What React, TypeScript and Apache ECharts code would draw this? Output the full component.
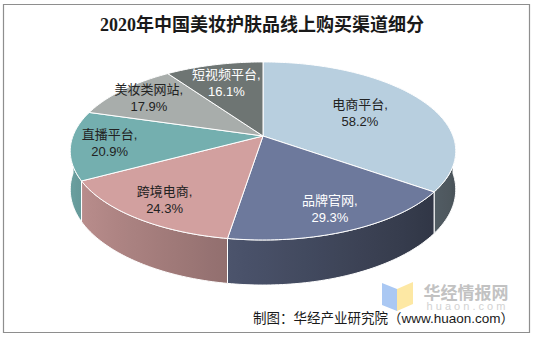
import React, { useEffect, useRef } from "react";
import * as echarts from "echarts";

const TITLE = "2020年中国美妆护肤品线上购买渠道细分";
const SOURCE = "制图：华经产业研究院（www.huaon.com）";
const BRAND = "华经情报网";
const BRAND_URL = "huaon.com";

const categories = ["电商平台", "品牌官网", "跨境电商", "直播平台", "美妆类网站", "短视频平台"];
const shares = [58.2, 29.3, 24.3, 20.9, 17.9, 16.1];

// slice styling
const TOP_COLORS = ["#b8cfdf", "#6d799c", "#d2a09f", "#74afaf", "#a8adab", "#6e7573"];
const LABEL_COLORS = ["#222222", "#ffffff", "#222222", "#222222", "#222222", "#ffffff"];
const LABEL_RADIUS = [0.6, 0.8, 0.8, 0.8, 0.8, 0.72];

// tilted-pie geometry (screen px)
const CX = 263;
const CY = 136;
const RX = 190;
const RY = 86.5;
const PERSP = 0.168;
const DEPTH = 37.5;
const LABEL_FONT = "'Liberation Sans', 'Noto Sans CJK SC', sans-serif";

const total = shares.reduce((a, b) => a + b, 0);
const startAngles: number[] = [];
const endAngles: number[] = [];
{
  let acc = 0;
  shares.forEach((v) => {
    startAngles.push((acc / total) * 360);
    acc += v;
    endAngles.push((acc / total) * 360);
  });
}

// angle in degrees, clockwise from 12 o'clock; f = fraction of radius
function project(theta: number, f = 1, drop = 0): [number, number] {
  const r = (theta * Math.PI) / 180;
  const X = f * Math.sin(r);
  const Z = f * Math.cos(r);
  const d = 1 + PERSP * Z;
  return [CX + (RX * X) / d, CY - (RY * Z) / d + drop / d];
}

function arc(a0: number, a1: number, drop = 0): [number, number][] {
  const pts: [number, number][] = [];
  const n = Math.max(2, Math.ceil(Math.abs(a1 - a0)));
  for (let k = 0; k <= n; k++) pts.push(project(a0 + ((a1 - a0) * k) / n, 1, drop));
  return pts;
}

function shade(hex: string, factor: number): string {
  const n = parseInt(hex.slice(1), 16);
  const c = [(n >> 16) & 255, (n >> 8) & 255, n & 255].map((v) =>
    Math.max(0, Math.min(255, Math.round(v * factor)))
  );
  return `rgb(${c[0]},${c[1]},${c[2]})`;
}

const wallFactor = (theta: number) => 0.655 - 0.255 * Math.sin((theta * Math.PI) / 180);

export default function App() {
  const ref = useRef<HTMLDivElement>(null);

  useEffect(() => {
    document.body.style.margin = "0";
    if (!ref.current) return;
    const chart = echarts.init(ref.current, undefined, { renderer: "svg" });

    const wallSeries = {
      type: "custom",
      coordinateSystem: "none",
      silent: true,
      z: 1,
      data: shares,
      renderItem: (params: any) => {
        const i = params.dataIndex;
        const a0 = Math.max(startAngles[i], 90);
        const a1 = Math.min(endAngles[i], 270);
        if (a0 >= a1) return { type: "group", children: [] };
        const top = arc(a0, a1, 0);
        const bottom = arc(a1, a0, DEPTH);
        const points = top.concat(bottom);
        const xs = top.map((p) => p[0]);
        const minX = Math.min(...xs);
        const maxX = Math.max(...xs);
        const stops: { offset: number; color: string }[] = [];
        const steps = Math.max(2, Math.ceil((a1 - a0) / 5));
        for (let k = 0; k <= steps; k++) {
          const th = a0 + ((a1 - a0) * k) / steps;
          const x = project(th)[0];
          stops.push({
            offset: maxX > minX ? (x - minX) / (maxX - minX) : 0,
            color: shade(TOP_COLORS[i], wallFactor(th)),
          });
        }
        stops.sort((p, q) => p.offset - q.offset);
        return {
          type: "polygon",
          shape: { points },
          style: {
            fill: {
              type: "linear",
              x: 0,
              y: 0,
              x2: 1,
              y2: 0,
              colorStops: stops,
            },
            stroke: "#ffffff",
            lineWidth: 1,
            lineJoin: "round",
          },
        };
      },
    };

    const topSeries = {
      type: "custom",
      coordinateSystem: "none",
      silent: true,
      z: 2,
      data: shares,
      renderItem: (params: any) => {
        const i = params.dataIndex;
        const points = [project(0, 0) as [number, number]].concat(
          arc(startAngles[i], endAngles[i], 0)
        );
        return {
          type: "polygon",
          shape: { points },
          style: {
            fill: TOP_COLORS[i],
            stroke: "#ffffff",
            lineWidth: 1,
            lineJoin: "round",
          },
        };
      },
    };

    const labelSeries = {
      type: "custom",
      coordinateSystem: "none",
      silent: true,
      z: 3,
      data: shares,
      renderItem: (params: any, api: any) => {
        const i = params.dataIndex;
        const mid = (startAngles[i] + endAngles[i]) / 2;
        const [x, y] = project(mid, LABEL_RADIUS[i]);
        return {
          type: "text",
          x,
          y,
          style: {
            text: `${categories[i]},\n${api.value(0).toFixed(1)}%`,
            fill: LABEL_COLORS[i],
            fontSize: 13,
            fontFamily: LABEL_FONT,
            align: "center",
            verticalAlign: "middle",
            lineHeight: 17,
          },
        };
      },
    };

    chart.setOption({
      animation: false,
      backgroundColor: "#ffffff",
      series: [wallSeries, topSeries, labelSeries],
      graphic: [
        {
          type: "rect",
          shape: { x: 3.5, y: 4.5, width: 526, height: 328 },
          style: { fill: "none", stroke: "#8e8e8e", lineWidth: 1.2 },
          z: 0,
        },
        {
          type: "text",
          x: 262,
          y: 25,
          style: {
            text: TITLE,
            fill: "#1a1a1a",
            fontSize: 18,
            fontWeight: "bold",
            fontFamily: "'Liberation Serif', 'Noto Sans CJK SC', serif",
            align: "center",
            verticalAlign: "middle",
          },
        },
        // watermark logo
        {
          type: "polygon",
          shape: { points: [[382, 283], [397, 289], [397, 311], [382, 305]] },
          style: { fill: "#aac8f3" },
          z: 5,
        },
        {
          type: "polygon",
          shape: { points: [[397, 289], [413, 282], [413, 304], [397, 311]] },
          style: { fill: "#fde8a4" },
          z: 5,
        },
        {
          type: "text",
          x: 466,
          y: 282,
          style: {
            text: `{b|${BRAND}}\n{u|${BRAND_URL.split("").join(" ")}}`,
            align: "center",
            verticalAlign: "top",
            rich: {
              b: {
                fill: "#c2c2c2",
                fontSize: 17,
                fontWeight: "bold",
                fontFamily: "'Noto Sans CJK SC', sans-serif",
                lineHeight: 18,
              },
              u: {
                fill: "#d2d2d2",
                fontSize: 11,
                fontFamily: "'Liberation Sans', sans-serif",
                lineHeight: 11,
              },
            },
          },
          z: 5,
        },
        {
          type: "text",
          x: 514,
          y: 318,
          style: {
            text: SOURCE,
            fill: "#1a1a1a",
            fontSize: 13.5,
            fontFamily: "'Liberation Sans', 'Noto Sans CJK SC', sans-serif",
            align: "right",
            verticalAlign: "middle",
          },
          z: 10,
        },
      ],
    });

    return () => chart.dispose();
  }, []);

  return <div ref={ref} style={{ width: 536, height: 338 }} />;
}
